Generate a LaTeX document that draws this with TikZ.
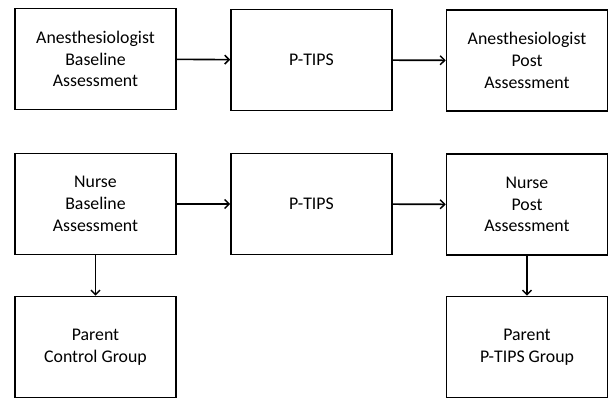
\documentclass[tikz,border=0pt]{standalone}
\usepackage{fontspec}
\setmainfont{Carlito}
\usetikzlibrary{arrows.meta}
\begin{document}
\begin{tikzpicture}[x=1pt,y=-1pt,
    box/.style={draw,line width=1.6pt,minimum width=161pt,minimum height=101pt,
      align=center,inner sep=0pt,font=\fontsize{17.8}{21.8}\selectfont},
    flow/.style={-{Straight Barb[length=4.5pt,width=9pt,line width=1.5pt]},line width=1.6pt}]

        \useasboundingbox (0,0) rectangle (608,398);

        % Anesthesiologist row
        \node[box] (anbase) at (95.5,59) {Anesthesiologist\\Baseline\\Assessment};
        \node[box] (antips) at (311.5,60) {P-TIPS};
        \node[box] (anpost) at (527,60.5) {Anesthesiologist\\Post\\Assessment};

        % Nurse row
        \node[box] (nubase) at (95.5,204) {Nurse\\Baseline\\Assessment};
        \node[box] (nutips) at (311.5,204) {P-TIPS};
        \node[box] (nupost) at (527,204.5) {Nurse\\Post\\Assessment};

        % Parent groups
        \node[box] (control) at (95.5,347) {Parent\\Control Group};
        \node[box] (pgroup) at (527,347) {Parent\\P-TIPS Group};

        % Draw arrows between the boxes
        \draw[flow] (anbase) -- (antips);
        \draw[flow] (antips) -- (anpost);
        \draw[flow] (nubase) -- (nutips);
        \draw[flow] (nutips) -- (nupost);
        \draw[flow] (nubase) -- (control);
        \draw[flow] (nupost) -- (pgroup);

\end{tikzpicture}
\end{document}
